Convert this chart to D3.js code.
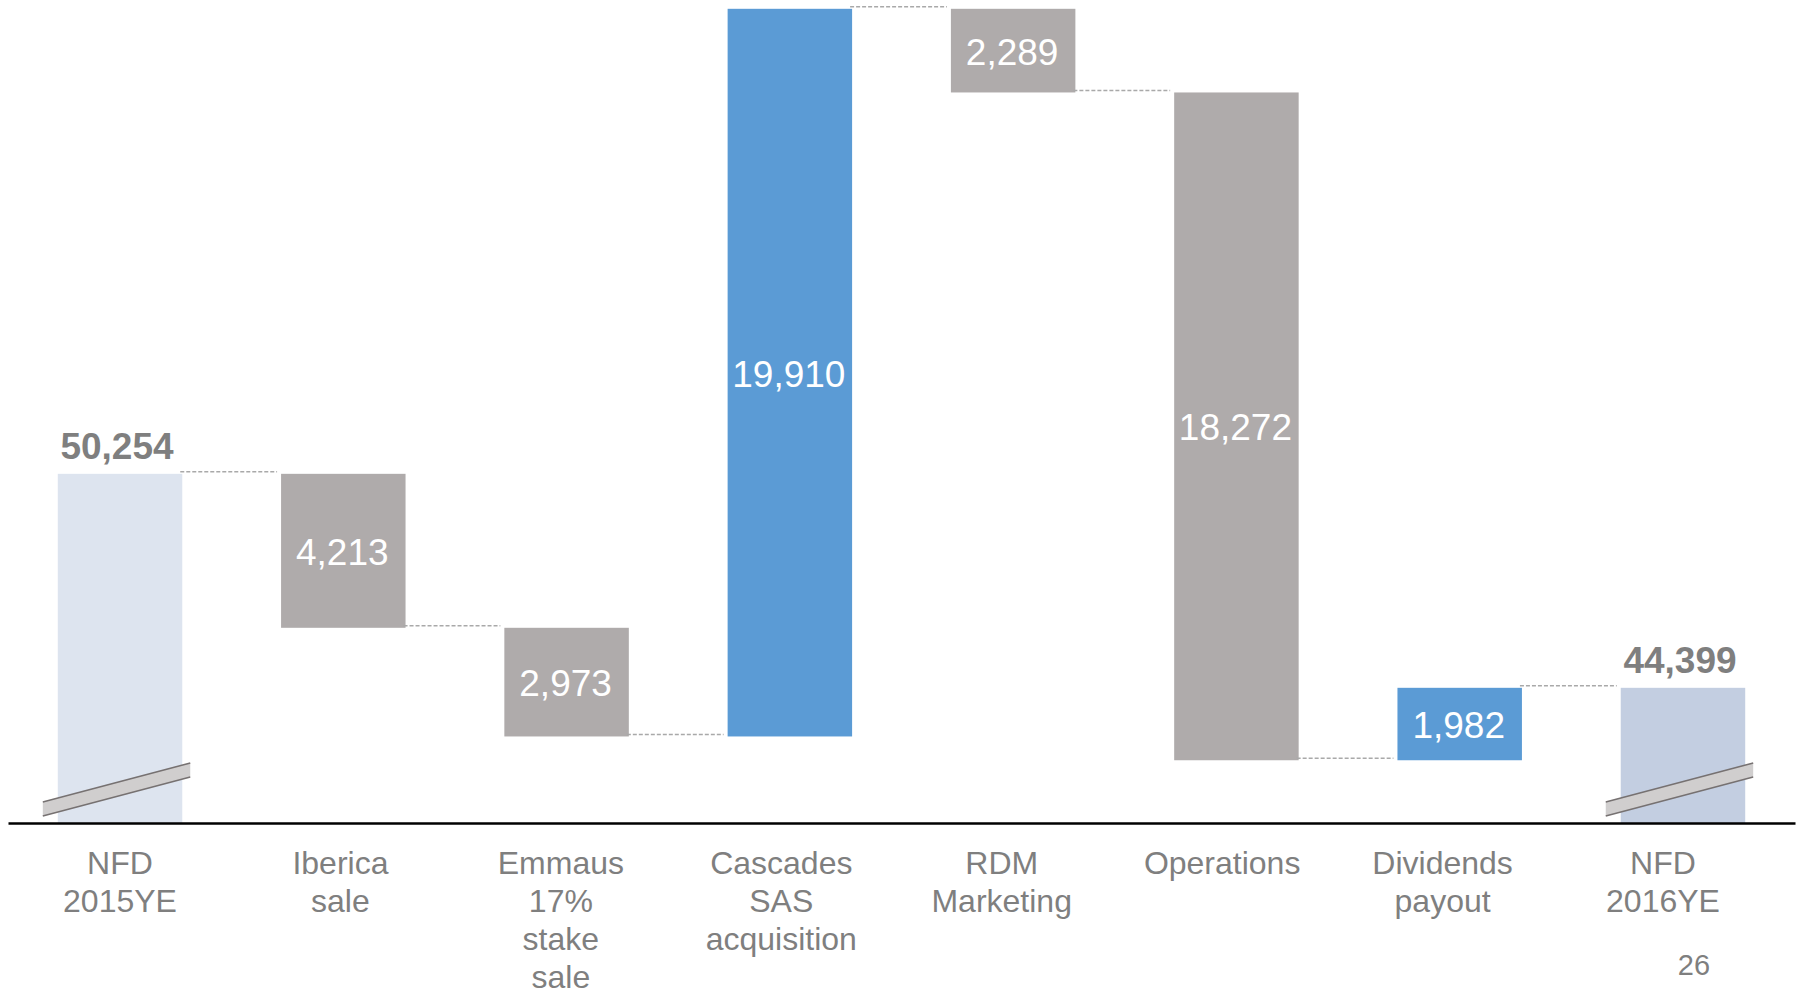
<!DOCTYPE html>
<html lang="en">
<head>
    <meta charset="UTF-8">
    <title>NFD bridge 2015YE - 2016YE</title>
    <script src="https://cdn.jsdelivr.net/npm/d3@7"></script>
    <style>
        html, body {
            margin: 0;
            padding: 0;
            background: #ffffff;
        }
        svg text {
            font-family: "Liberation Sans", Arial, sans-serif;
        }
    </style>
</head>
<body>
<div class="chart"></div>

<script type="text/javascript">
    var w = 1797;
    var h = 992;

    // categories of the bridge, wrapped the way the slide shows them
    var categories = ['NFD 2015YE', 'Iberica sale', 'Emmaus 17% stake sale', 'Cascades SAS acquisition',
        'RDM Marketing', 'Operations', 'Dividends payout', 'NFD 2016YE'];
    var labelLines = [['NFD', '2015YE'], ['Iberica', 'sale'], ['Emmaus', '17%', 'stake', 'sale'],
        ['Cascades', 'SAS', 'acquisition'], ['RDM', 'Marketing'], ['Operations'],
        ['Dividends', 'payout'], ['NFD', '2016YE']];
    // totals are absolute, the rest are moves of net financial debt
    var values = [50254, -4213, -2973, 19910, -2289, -18272, 1982, 44399];
    var kinds = ['total', 'step', 'step', 'step', 'step', 'step', 'step', 'total'];
    var pageNumber = '26';

    // running start / end of each bar
    var bars = [];
    var running = 0;
    values.forEach(function(v, i) {
        var start, end;
        if (kinds[i] === 'total') {
            start = null;
            end = v;
        } else {
            start = running;
            end = running + v;
        }
        running = end;
        bars.push({cat: categories[i], i: i, value: v, kind: kinds[i], start: start, end: end});
    });

    var svg = d3.select('.chart').append('svg')
            .attr('width', w)
            .attr('height', h);

    var x = d3.scaleBand()
            .domain(categories)
            .range([8, 1795])
            .paddingInner(0.4425)
            .paddingOuter(0.223);

    // category text sits slightly off the bar centres on the slide
    var xLabel = d3.scalePoint()
            .domain(categories)
            .range([120, 1663]);

    // axis starts at a broken value, marked by the break symbols
    var y = d3.scaleLinear()
            .domain([40700, 63000])
            .range([823, 8]);

    var bw = x.bandwidth();
    var base = y(40700);

    var colorOf = function(d) {
        if (d.kind === 'total') return d.i === 0 ? '#dde4ef' : '#c3cee1';
        return d.value > 0 ? '#5b9bd5' : '#afabab';
    };

    // bars
    svg.selectAll('rect.bar')
            .data(bars)
            .enter()
            .append('rect')
            .attr('class', 'bar')
            .attr('x', function(d) { return x(d.cat); })
            .attr('y', function(d) {
                if (d.kind === 'total') return y(d.end);
                return y(Math.max(d.start, d.end));
            })
            .attr('width', bw)
            .attr('height', function(d) {
                if (d.kind === 'total') return base - y(d.end);
                return Math.abs(y(d.start) - y(d.end));
            })
            .attr('fill', colorOf);

    // dashed connectors between neighbouring bars
    svg.selectAll('line.link')
            .data(bars.slice(0, -1))
            .enter()
            .append('line')
            .attr('class', 'link')
            .attr('x1', function(d) { return x(d.cat) + bw - 2; })
            .attr('x2', function(d) { return x(categories[d.i + 1]) - 4; })
            .attr('y1', function(d) { return y(d.end) - 2; })
            .attr('y2', function(d) { return y(d.end) - 2; })
            .attr('stroke', '#a9a9a9')
            .attr('stroke-width', 1.5)
            .attr('stroke-dasharray', '4,2');

    // axis line
    var axis = d3.axisBottom(x).tickSize(0).tickFormat('');
    svg.append('g')
            .attr('transform', 'translate(0,' + base + ')')
            .call(axis)
            .select('.domain')
            .attr('stroke', '#000')
            .attr('stroke-width', 2.5);

    // break symbols on the total bars
    var totals = bars.filter(function(d) { return d.kind === 'total'; });
    var brk = svg.selectAll('g.brk')
            .data(totals)
            .enter()
            .append('g')
            .attr('class', 'brk')
            .attr('transform', function(d) { return 'translate(' + x(d.cat) + ',' + base + ')'; });
    brk.append('polygon')
            .attr('points', function() {
                return [[-15, -21], [bw + 8, -60], [bw + 8, -46], [-15, -7]].join(' ');
            })
            .attr('fill', '#d0cece');
    brk.append('line')
            .attr('x1', -15).attr('y1', -21)
            .attr('x2', bw + 8).attr('y2', -60)
            .attr('stroke', '#767171').attr('stroke-width', 1.5);
    brk.append('line')
            .attr('x1', -15).attr('y1', -7)
            .attr('x2', bw + 8).attr('y2', -46)
            .attr('stroke', '#767171').attr('stroke-width', 1.5);

    // value labels inside the step bars
    svg.selectAll('text.val')
            .data(bars.filter(function(d) { return d.kind !== 'total'; }))
            .enter()
            .append('text')
            .attr('class', 'val')
            .attr('x', function(d) { return x(d.cat) + bw / 2 - 1; })
            .attr('y', function(d) { return (y(d.start) + y(d.end)) / 2 + 14; })
            .attr('text-anchor', 'middle')
            .attr('fill', '#fff')
            .attr('font-size', 37)
            .text(function(d) { return d3.format(',')(Math.abs(d.value)); });

    // bold totals above the first and last bars
    svg.selectAll('text.tot')
            .data(totals)
            .enter()
            .append('text')
            .attr('class', 'tot')
            .attr('x', function(d) { return x(d.cat) + bw / 2 - 3; })
            .attr('y', function(d) { return y(d.end) - 15; })
            .attr('text-anchor', 'middle')
            .attr('fill', '#7f7f7f')
            .attr('font-size', 37)
            .attr('font-weight', 'bold')
            .text(function(d) { return d3.format(',')(d.value); });

    // category labels under the axis
    var cl = svg.selectAll('text.cat')
            .data(bars)
            .enter()
            .append('text')
            .attr('class', 'cat')
            .attr('text-anchor', 'middle')
            .attr('fill', '#7f7f7f')
            .attr('font-size', 32);
    cl.selectAll('tspan')
            .data(function(d) {
                return labelLines[d.i].map(function(t) { return {t: t, cat: d.cat}; });
            })
            .enter()
            .append('tspan')
            .attr('x', function(d) { return xLabel(d.cat); })
            .attr('y', function(d, j) { return base + 51 + j * 38; })
            .text(function(d) { return d.t; });

    // slide page number
    svg.append('text')
            .attr('x', 1694)
            .attr('y', 975)
            .attr('text-anchor', 'middle')
            .attr('fill', '#7f7f7f')
            .attr('font-size', 29)
            .text(pageNumber);
</script>
</body>
</html>
